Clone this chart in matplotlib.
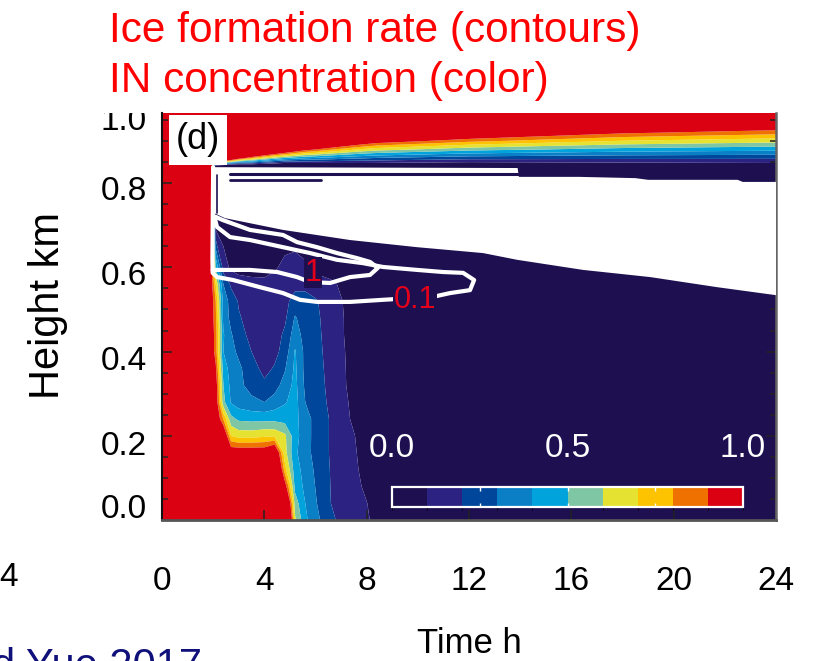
import matplotlib
matplotlib.use('Agg')
import matplotlib.pyplot as plt
import matplotlib.transforms as mtransforms
from matplotlib.colors import ListedColormap, BoundaryNorm
from matplotlib.cm import ScalarMappable
import numpy as np

plt.rcParams['font.family'] = ['Liberation Sans', 'DejaVu Sans']

# classes of IN concentration (colour scale 0..1)
in_levels = [0.0, 0.1, 0.2, 0.3, 0.4, 0.5, 0.6, 0.7, 0.8, 0.9, 1.0]
in_colors = ['#1e1050', '#2b2281', '#00479b', '#0a7fc6', '#00a3dc',
             '#7fc6a4', '#e5e232', '#fdc300', '#ef7100', '#db0012']

# IN concentration (rows = height, columns = time)
time_h = [0, 1.9, 2.1, 2.4, 2.7, 3.0, 3.5, 4.0, 4.4, 4.8, 5.2, 5.6, 6.0,
          6.6, 7.2, 7.8, 8.4, 12, 18, 24]
height_km = [0.0, 0.04, 0.08, 0.12, 0.16, 0.20, 0.24, 0.28, 0.32, 0.36,
             0.40, 0.44, 0.48, 0.52, 0.56, 0.60, 0.70, 0.80, 0.84, 0.86,
             0.88, 0.90, 0.92, 0.94, 0.97]
in_conc = [
    [1, 1, 1, 1, 1, 1, 1, 1, 1, 1.56, 0.62, 0.42, 0.335, 0.217, 0.164, 0.123, 0.08, 0.03, 0.03, 0.03],
    [1, 1, 1, 1, 1, 1, 1, 1, 1, 1.32, 0.55, 0.4, 0.31, 0.2, 0.158, 0.115, 0.075, 0.03, 0.03, 0.03],
    [1, 1, 1, 1, 1, 1, 1, 1, 1, 0.98, 0.47, 0.375, 0.297, 0.197, 0.15, 0.1, 0.07, 0.03, 0.03, 0.03],
    [1, 1, 1, 1, 1, 1, 1, 1, 1.32, 0.74, 0.445, 0.36, 0.284, 0.194, 0.14, 0.09, 0.065, 0.03, 0.03, 0.03],
    [1, 1, 1, 1, 1, 1, 1, 1, 1.1, 0.64, 0.42, 0.337, 0.27, 0.19, 0.133, 0.085, 0.06, 0.03, 0.03, 0.03],
    [1, 1, 1, 1.08, 0.7, 0.66, 0.66, 0.68, 0.68, 0.62, 0.44, 0.34, 0.27, 0.19, 0.127, 0.08, 0.06, 0.03, 0.03, 0.03],
    [1, 1, 1.04, 0.79, 0.53, 0.48, 0.47, 0.47, 0.47, 0.46, 0.43, 0.34, 0.27, 0.19, 0.11, 0.07, 0.05, 0.03, 0.03, 0.03],
    [1, 1, 1.0, 0.53, 0.39, 0.35, 0.32, 0.3, 0.34, 0.39, 0.44, 0.3, 0.25, 0.18, 0.105, 0.07, 0.05, 0.03, 0.03, 0.03],
    [1, 1, 0.98, 0.5, 0.37, 0.32, 0.27, 0.22, 0.26, 0.34, 0.43, 0.28, 0.24, 0.175, 0.1, 0.065, 0.05, 0.03, 0.03, 0.03],
    [1, 1, 0.92, 0.45, 0.36, 0.32, 0.24, 0.17, 0.21, 0.29, 0.42, 0.27, 0.235, 0.17, 0.098, 0.06, 0.05, 0.03, 0.03, 0.03],
    [1, 1, 0.85, 0.4, 0.33, 0.28, 0.2, 0.14, 0.17, 0.24, 0.41, 0.27, 0.23, 0.165, 0.095, 0.06, 0.05, 0.03, 0.03, 0.03],
    [1, 1, 0.85, 0.41, 0.31, 0.24, 0.17, 0.13, 0.15, 0.22, 0.35, 0.26, 0.225, 0.16, 0.09, 0.06, 0.05, 0.03, 0.03, 0.03],
    [1, 1, 0.82, 0.37, 0.27, 0.21, 0.16, 0.13, 0.14, 0.18, 0.31, 0.25, 0.22, 0.155, 0.09, 0.055, 0.05, 0.03, 0.03, 0.03],
    [1, 1, 0.8, 0.36, 0.26, 0.19, 0.15, 0.14, 0.14, 0.17, 0.24, 0.24, 0.21, 0.15, 0.085, 0.05, 0.05, 0.03, 0.03, 0.03],
    [1, 1, 0.7, 0.3, 0.18, 0.15, 0.13, 0.12, 0.13, 0.15, 0.17, 0.17, 0.15, 0.12, 0.07, 0.05, 0.05, 0.03, 0.03, 0.03],
    [1, 1, 0.5, 0.15, 0.08, 0.06, 0.06, 0.07, 0.09, 0.12, 0.13, 0.11, 0.07, 0.05, 0.05, 0.05, 0.05, 0.03, 0.03, 0.03],
    [1, 1, 0.05, 0.05, 0.05, 0.05, 0.05, 0.05, 0.05, 0.05, 0.05, 0.05, 0.05, 0.05, 0.05, 0.05, 0.05, 0.03, 0.03, 0.03],
    [1, 1, 0.05, 0.05, 0.05, 0.05, 0.05, 0.05, 0.05, 0.05, 0.05, 0.05, 0.05, 0.05, 0.05, 0.05, 0.05, 0.03, 0.03, 0.03],
    [1, 1, -0.1, -0.14, -0.19, -0.21, -0.135, -0.14, -0.155, -0.17, -0.137, -0.11, -0.1, -0.08, -0.06, -0.045, -0.036, -0.045, -0.004, 0.018],
    [1, 1, 1.9, 1.46, 1.26, 1.02, 0.805, 0.66, 0.57, 0.5, 0.455, 0.42, 0.4, 0.37, 0.34, 0.32, 0.3, 0.245, 0.228, 0.223],
    [1, 1, 2, 2, 2, 2, 1.75, 1.46, 1.3, 1.17, 1.05, 0.95, 0.9, 0.81, 0.74, 0.68, 0.64, 0.535, 0.46, 0.43],
    [1, 1, 2, 2, 2, 2, 2, 2, 2, 2, 2, 2, 1.4, 1.25, 1.14, 1.05, 0.98, 0.825, 0.69, 0.634],
    [1, 1, 2, 2, 2, 2, 2, 2, 2, 2, 2, 2, 2, 2, 2, 2, 2, 1.115, 0.92, 0.84],
    [1, 1, 2, 2, 2, 2, 2, 2, 2, 2, 2, 2, 2, 2, 2, 2, 2, 2, 1.16, 1.045],
    [1, 1, 2, 2, 2, 2, 2, 2, 2, 2, 2, 2, 2, 2, 2, 2, 2, 2, 2, 1.35],
]

# white area of strong ice formation
ice_t = [2.0, 13.9, 13.95, 16.3, 18.5, 19.0, 22.5, 22.7, 24.0, 24.0, 21.7,
         19.08, 16.46, 13.88, 12.55, 11.26, 9.97, 7.35, 4.73, 2.46, 2.11, 2.0]
ice_h = [0.838, 0.836, 0.815, 0.815, 0.812, 0.808, 0.808, 0.803, 0.803,
         0.534, 0.553, 0.577, 0.594, 0.618, 0.634, 0.641, 0.648, 0.665,
         0.689, 0.717, 0.727, 0.73]

# dark gaps inside the white area
gap_a_t, gap_a_h = [2.66, 13.9], [0.823, 0.823]
gap_b_t, gap_b_h = [2.66, 6.2], [0.808, 0.808]
gap_c_t, gap_c_h = [2.15, 2.15], [0.82, 0.73]

# ice formation rate contours
c01_t = [2.0, 1.97, 1.98, 2.15, 2.78, 3.83, 4.73, 5.39, 6.06, 7.35, 8.64,
         10.59, 11.26, 12.04, 12.2, 11.77, 10.99, 9.97, 8.64, 7.86, 6.84,
         5.79, 4.73, 3.44, 2.66, 2.15, 2.05]
c01_h = [0.838, 0.62, 0.587, 0.577, 0.570, 0.553, 0.539, 0.523, 0.518,
         0.518, 0.523, 0.530, 0.539, 0.546, 0.570, 0.587, 0.589, 0.594,
         0.601, 0.610, 0.618, 0.634, 0.648, 0.665, 0.672, 0.696, 0.72]
c1_t = [1.98, 2.15, 3.44, 4.50, 5.28, 5.79, 6.57, 7.35, 8.13, 8.44, 8.13,
        7.62, 6.84, 6.06, 5.28, 4.73, 3.44, 2.35, 2.1]
c1_h = [0.594, 0.594, 0.594, 0.589, 0.577, 0.565, 0.563, 0.577, 0.582,
        0.599, 0.613, 0.622, 0.634, 0.648, 0.660, 0.677, 0.689, 0.713, 0.72]
contour_labels = ['1', '0.1']
contour_label_t = [5.9, 9.9]
contour_label_h = [0.587, 0.523]

x_ticks = [0, 4, 8, 12, 16, 20, 24]
y_ticks = [0.0, 0.2, 0.4, 0.6, 0.8]
y_ticklabels = ['0.0', '0.2', '0.4', '0.6', '0.8']
cbar_ticklabels = ['0.0', '0.5', '1.0']

navy = in_colors[0]

fig = plt.figure(figsize=(8.13, 6.61), dpi=100)
ax = fig.add_axes([162 / 813, 1 - 520 / 661, 614 / 813, 407 / 661])

edges = [-10] + in_levels[1:-1] + [10]
ax.contourf(time_h, height_km, np.array(in_conc), levels=edges,
            colors=in_colors, antialiased=True)

ax.fill(ice_t, ice_h, color='white', lw=0, zorder=3)
for gt, gh, lw in [(gap_a_t, gap_a_h, 2.2), (gap_b_t, gap_b_h, 2.0),
                   (gap_c_t, gap_c_h, 1.2)]:
    ax.plot(gt, gh, color=navy, lw=lw, zorder=3.5, solid_capstyle='round')
ax.plot(c01_t, c01_h, color='white', lw=3.0, zorder=4,
        solid_capstyle='round', solid_joinstyle='round')
ax.plot(c1_t, c1_h, color='white', lw=3.0, zorder=4,
        solid_capstyle='round', solid_joinstyle='round')
for s, t, h in zip(contour_labels, contour_label_t, contour_label_h):
    ax.text(t, h, s, color='#e3001b', fontsize=22, ha='center', va='center',
            zorder=5, bbox=dict(facecolor=navy, edgecolor='none', pad=0.5))

ax.text(1.41, 0.903, '(d)', fontsize=26, ha='center', va='center', zorder=6,
        bbox=dict(facecolor='white', edgecolor='none',
                  boxstyle='square,pad=0.2'))

ax.set_xlim(0, 24)
ax.set_ylim(0, 0.9667)
ax.set_xticks(x_ticks)
ax.set_xticklabels([str(v) for v in x_ticks])
ax.set_yticks(y_ticks)
ax.set_yticklabels(y_ticklabels)
ax.set_yticks(np.arange(0, 0.96, 0.05), minor=True)
ax.tick_params(which='both', direction='in', left=True, right=True,
               bottom=True, top=False, width=1.1, color='#222222')
ax.tick_params(which='major', length=7.5)
ax.tick_params(which='minor', length=4)
ax.tick_params(axis='x', labelsize=24, pad=33)
ax.tick_params(axis='y', labelsize=24, pad=11)

ax.spines['top'].set_visible(False)
ax.spines['left'].set_linewidth(1.5)
ax.spines['left'].set_color('#111111')
ax.spines['bottom'].set_linewidth(2)
ax.spines['bottom'].set_color('#555555')
ax.spines['right'].set_linewidth(1.8)
ax.spines['right'].set_color('#666666')

# the tick labels of the source picture sit a little off their ticks
label_shift_px = [14, -7, -6, -6, -5]
for lab, dy in zip(ax.get_yticklabels(), label_shift_px):
    lab.set_transform(lab.get_transform() + mtransforms.ScaledTranslation(
        0, dy / fig.dpi, fig.dpi_scale_trans))

ax.set_ylabel('Height km', fontsize=30)
ax.yaxis.set_label_coords(-0.153, 0.528)
ax.set_xlabel('Time h', fontsize=25)
ax.xaxis.set_label_coords(0.5, -0.262)

# inset colour bar
cax = ax.inset_axes([0.375, 0.032, 0.571, 0.049])
sm = ScalarMappable(norm=BoundaryNorm(in_levels, len(in_colors)),
                    cmap=ListedColormap(in_colors))
cb = fig.colorbar(sm, cax=cax, orientation='horizontal')
cb.outline.set_edgecolor('white')
cb.outline.set_linewidth(1.6)
cb.set_ticks([0.25, 0.5, 0.75])
cax.tick_params(direction='in', length=3, width=1, color='white',
                top=True, bottom=True, labelbottom=False, labeltop=False)
for v, s in zip([in_levels[0], in_levels[5], in_levels[-1]], cbar_ticklabels):
    cax.text(v, 2.95, s, transform=cax.get_xaxis_transform(), ha='center',
             va='center', color='white', fontsize=24)

# slide text around the panel
fig.text(109 / 813, 1 - 42 / 661, 'Ice formation rate (contours)',
         color='#ff0000', fontsize=30.5, va='baseline', ha='left')
fig.text(109 / 813, 1 - 92 / 661, 'IN concentration (color)',
         color='#ff0000', fontsize=30.5, va='baseline', ha='left')

top_label = fig.text(147 / 813, 1 - 121 / 661, '1.0', ha='right',
                     va='center', fontsize=24)
top_label.set_clip_box(mtransforms.TransformedBbox(
    mtransforms.Bbox([[0, 0], [1, 1 - 113 / 661]]), fig.transFigure))
top_label.set_clip_on(True)

fig.text(18 / 813, 1 - 578 / 661, '4', ha='right', va='center', fontsize=24)
fig.text(-8 / 813, 1 - 678 / 661, 'd Yue 2017', color='#10107a',
         fontsize=30, va='baseline', ha='left')

plt.savefig('out.png', dpi=100)
plt.close()
